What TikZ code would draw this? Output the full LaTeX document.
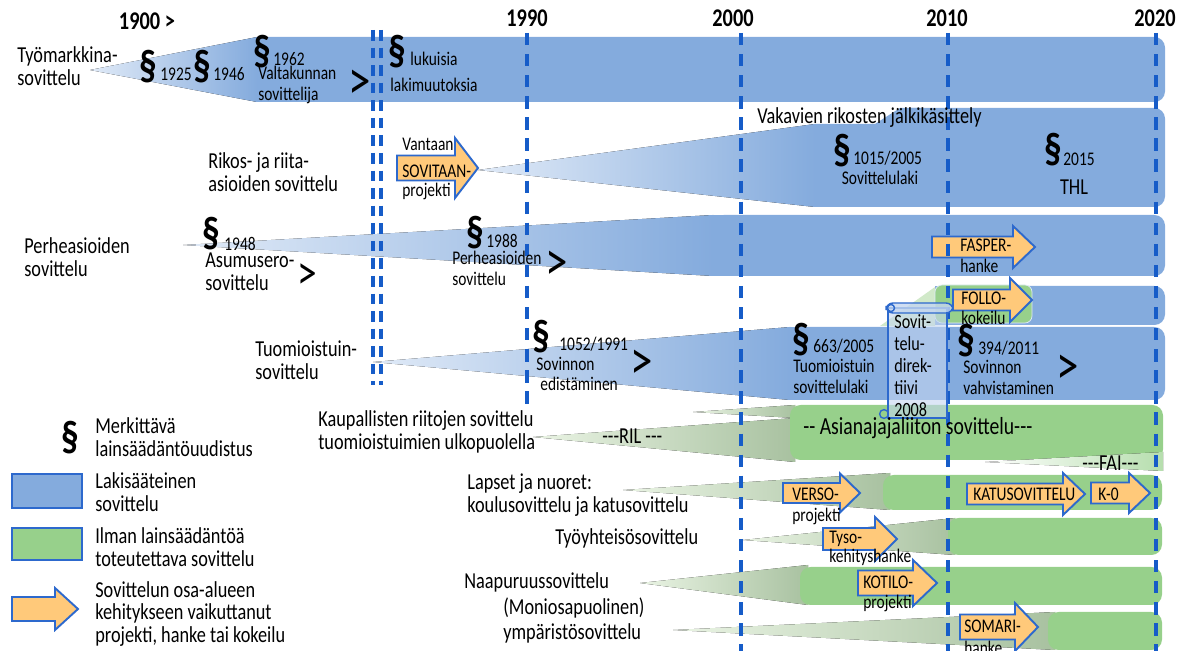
\documentclass[tikz,border=0pt]{standalone}
\usepackage{fontspec}
\setmainfont{Carlito}[FakeStretch=0.8]
\usetikzlibrary{positioning}

\definecolor{bandblue}{RGB}{132,171,221}
\definecolor{bluefade}{RGB}{224,234,247}
\definecolor{bandgreen}{RGB}{151,208,139}
\definecolor{greenfade}{RGB}{234,244,228}
\definecolor{sage}{RGB}{168,193,160}
\definecolor{lineblue}{RGB}{22,92,200}
\definecolor{arrowfill}{RGB}{255,201,122}
\definecolor{arrowline}{RGB}{45,105,205}
\definecolor{scrollfill}{RGB}{196,214,240}

\tikzset{
  sininen/.style={fill=bandblue},
  sinikiila/.style={left color=bluefade, right color=bandblue},
  vihrea/.style={fill=bandgreen},
  viherkiila/.style={left color=greenfade, right color=sage},
  hanke/.style={fill=arrowfill, draw=arrowline, line width=1.1pt, line join=miter},
  vuosiviiva/.style={draw=lineblue, line width=2.3pt, dash pattern=on 7pt off 5pt},
  tuplaviiva/.style={draw=lineblue, line width=2.2pt, dash pattern=on 6pt off 4pt},
  vuosi/.style={font=\bfseries\fontsize{14.5}{14.5}\selectfont, inner sep=0pt},
  teksti/.style={font=\fontsize{13}{13}\selectfont, align=left, anchor=west, inner sep=0pt},
  pieni/.style={teksti, font=\fontsize{11}{12}\selectfont},
  pykala/.style={font=\bfseries\fontsize{25}{25}\selectfont, inner sep=0pt},
  jatkuu/.style={font=\fontsize{32}{32}\selectfont, inner sep=0pt}
}

% band with rounded right end
\newcommand{\kaista}[5]{%
  \fill[#1, rounded corners=6pt] (#2,#3) rectangle (#4,#5);
  \fill[#1] (#2,#3) rectangle ({#2+20},#5);}
% project arrow: x1, x2, head start, y centre, shaft half, head half
\newcommand{\nuoli}[6]{%
  \draw[hanke] (#1,{#4-#5}) -- (#3,{#4-#5}) -- (#3,{#4-#6}) -- (#2,#4)
    -- (#3,{#4+#6}) -- (#3,{#4+#5}) -- (#1,{#4+#5}) -- cycle;}

\begin{document}
\begin{tikzpicture}[x=0.02cm, y=-0.02cm]
  \useasboundingbox (0,0) rectangle (1184,651);

  % lakisaateiset kaistat
  \fill[sinikiila] (90,70) -- (257,37) -- (257,102) -- cycle;
  \kaista{sininen}{257}{37}{1165}{102}

  \fill[sinikiila] (478,170) -- (815,124) -- (815,207) -- cycle;
  \fill[sininen] (815,124) -- (875,124) -- (900,108) -- (920,108) -- (920,207) -- (815,207) -- cycle;
  \kaista{sininen}{900}{108}{1165}{207}

  \fill[sinikiila] (183,245) -- (713,215) -- (713,276) -- cycle;
  \kaista{sininen}{713}{215}{1165}{276}

  \fill[sinikiila] (373,362) -- (790,327) -- (790,400) -- cycle;
  \kaista{sininen}{790}{327}{1165}{400}
  \kaista{sininen}{935}{286}{1165}{325}
  \fill[greenfade!70!bandgreen] (880,326) -- (935,287) -- (935,326) -- cycle;
  \filldraw[vihrea, draw=bluefade, rounded corners=4pt] (935,285) rectangle (1032,323);

  % ilman lainsaadantoa
  \fill[viherkiila] (693,412) -- (795,405) -- (795,418) -- cycle;
  \fill[viherkiila] (533,437) -- (795,418) -- (795,462) -- cycle;
  \fill[vihrea, rounded corners=6pt] (790,405) rectangle (1163,460);
  \fill[left color=white, right color=bandgreen!70] (985,462) -- (1163,452) -- (1163,471) -- cycle;

  \fill[viherkiila] (623,490) -- (890,473) -- (890,510) -- cycle;
  \fill[vihrea, rounded corners=6pt] (883,475) rectangle (1162,510);

  \fill[viherkiila] (743,540) -- (955,518) -- (955,555) -- cycle;
  \fill[vihrea, rounded corners=6pt] (948,518) rectangle (1162,555);

  \fill[viherkiila] (640,583) -- (808,565) -- (808,605) -- cycle;
  \fill[vihrea, rounded corners=6pt] (800,567) rectangle (1162,605);

  \fill[viherkiila] (673,630) -- (1055,612) -- (1055,650) -- cycle;
  \fill[vihrea, rounded corners=6pt] (1048,612) rectangle (1162,650);

  % hankkeet
  \nuoli{397}{478}{455}{168}{12.5}{30}
  \nuoli{932}{1035}{1013}{247}{10.5}{21}
  \nuoli{953}{1032}{1010}{300}{10.5}{22}
  \nuoli{783}{860}{840}{493}{10}{19.5}
  \nuoli{967}{1085}{1063}{494}{10.5}{21}
  \nuoli{1091}{1150}{1129}{493}{10.5}{20}
  \nuoli{823}{897}{875}{539}{11}{22}
  \nuoli{858}{937}{913}{583}{12.5}{23}
  \nuoli{960}{1038}{1015}{627}{12.5}{24}

  % vuosiviivat
  \draw[tuplaviiva] (373,30) -- (373,385);
  \draw[tuplaviiva] (381,30) -- (381,385);
  \draw[vuosiviiva] (527,33) -- (527,405);
  \draw[vuosiviiva] (741,33) -- (741,651);
  \draw[vuosiviiva] (948,33) -- (948,651);
  \draw[vuosiviiva] (1156,33) -- (1156,651);

  % direktiivi
  \fill[scrollfill, opacity=0.6] (888,308) rectangle (947,418);
  \draw[arrowline, line width=0.8pt] (888,308) rectangle (947,418);
  \draw[arrowline, line width=0.8pt, fill=scrollfill, fill opacity=0.8, rounded corners=4pt] (886,303) rectangle (953,313);
  \draw[arrowline, line width=0.8pt] (891,308) circle (2pt);
  \draw[arrowline, line width=0.8pt] (884,414) circle (2.5pt);

  % vuodet
  \node[vuosi] (v1900) at (147,21) {1900 >};
  \node[vuosi] (v1990) at (527,18) {1990};
  \node[vuosi] (v2000) at (733,18) {2000};
  \node[vuosi] (v2010) at (947,18) {2010};
  \node[vuosi] (v2020) at (1155,18) {2020};

  % tyomarkkinasovittelu
  \node[teksti] (tyo) at (17,66) {Työmarkkina-\\sovittelu};
  \node[pykala] (p1925) at (148,67) {§};
  \node[pieni] (l1925) at (160,74) {1925};
  \node[pykala] (p1946) at (202,67) {§};
  \node[pieni] (l1946) at (213,74) {1946};
  \node[pykala] (p1962) at (262,52) {§};
  \node[pieni] (l1962) at (273,59) {1962};
  \node[pieni] (valtak) at (258,85) {Valtakunnan\\sovittelija};
  \node[jatkuu] (j1) at (360,85) {>};
  \node[pykala] (plukuisia) at (397,52) {§};
  \node[pieni] (lukuisia) at (410,59) {lukuisia};
  \node[pieni] (lakimuut) at (390,85) {lakimuutoksia};

  % rikos- ja riita-asiat
  \node[teksti] (vakavien) at (757,118) {Vakavien rikosten jälkikäsittely};
  \node[teksti] (rikos) at (208,172) {Rikos- ja riita-\\asioiden sovittelu};
  \node[pieni] (vantaan) at (402,144) {Vantaan};
  \node[pieni] (sovitaan) at (402,171) {SOVITAAN-};
  \node[pieni] (sovproj) at (402,191) {projekti};
  \node[pykala] (p2005) at (842,151) {§};
  \node[pieni] (l2005) at (853,158) {1015/2005};
  \node[pieni, anchor=center] (sovlaki) at (880,178) {Sovittelulaki};
  \node[pykala] (p2015) at (1053,150) {§};
  \node[pieni] (l2015) at (1063,159) {2015};
  \node[teksti, anchor=center] (thl) at (1074,187) {THL};

  % perheasiat
  \node[teksti] (perhe) at (24,257) {Perheasioiden\\sovittelu};
  \node[pykala] (p1948) at (211,234) {§};
  \node[pieni] (l1948) at (224,244) {1948};
  \node[teksti] (asumus) at (205,272) {Asumusero-\\sovittelu};
  \node[jatkuu, font=\fontsize{28}{28}\selectfont] (j2) at (307,277) {>};
  \node[pykala] (p1988) at (475,233) {§};
  \node[pieni] (l1988) at (486,241) {1988};
  \node[pieni] (perhe88) at (452,268) {Perheasioiden\\sovittelu};
  \node[jatkuu] (j3) at (557,266) {>};
  \node[pieni] (fasper) at (960,245) {FASPER-};
  \node[pieni] (fasphanke) at (960,266) {hanke};

  % tuomioistuinsovittelu
  \node[teksti] (tuomio) at (255,360) {Tuomioistuin-\\sovittelu};
  \node[pykala] (p1991) at (541,337) {§};
  \node[pieni] (l1991) at (559,344) {1052/1991};
  \node[pieni] (sovinnon) at (536,364) {Sovinnon};
  \node[pieni] (edist) at (540,384) {edistäminen};
  \node[jatkuu] (j4) at (642,365) {>};
  \node[pykala] (p663) at (801,340) {§};
  \node[pieni] (l663) at (813,346) {663/2005};
  \node[pieni] (tslaki) at (793,376) {Tuomioistuin\\sovittelulaki};
  \node[pykala] (p394) at (966,341) {§};
  \node[pieni] (l394) at (978,348) {394/2011};
  \node[pieni] (vahvist) at (963,377) {Sovinnon\\vahvistaminen};
  \node[jatkuu] (j5) at (1068,370) {>};
  \node[pieni] (follo) at (961,298) {FOLLO-};
  \node[pieni] (kokeilu) at (961,318) {kokeilu};
  \node[teksti, font=\fontsize{11.5}{12.5}\selectfont] (direktiivi) at (894,366) {Sovit-\\telu-\\direk-\\tiivi\\2008};

  % kaupalliset riidat
  \node[teksti] (kaupall) at (318,432) {Kaupallisten riitojen sovittelu\\tuomioistuimien ulkopuolella};
  \node[teksti] (ril) at (602,436) {-{}-{}-RIL -{}-{}-};
  \node[teksti, font=\fontsize{14}{14}\selectfont] (asianaj) at (803,428) {-{}- Asianajajaliiton sovittelu-{}-{}-};
  \node[teksti] (fai) at (1082,463) {-{}-{}-FAI-{}-{}-};

  % lapset, tyoyhteiso, naapurit
  \node[teksti] (lapset) at (467,495) {Lapset ja nuoret:\\koulusovittelu ja katusovittelu};
  \node[pieni] (verso) at (792,494) {VERSO-};
  \node[pieni] (versoproj) at (792,516) {projekti};
  \node[pieni] (katu) at (973,494) {KATUSOVITTELU};
  \node[pieni] (k0) at (1098,494) {K-0};
  \node[teksti] (tyoyht) at (555,538) {Työyhteisösovittelu};
  \node[pieni] (tyso) at (829,539) {Tyso-};
  \node[pieni] (kehitys) at (829,557) {kehityshanke};
  \node[teksti] (naapuri) at (464,582) {Naapuruussovittelu};
  \node[teksti] (monio) at (503,608) {(Moniosapuolinen)};
  \node[teksti] (ymparisto) at (503,633) {ympäristösovittelu};
  \node[pieni] (kotilo) at (863,582) {KOTILO-};
  \node[pieni] (kotiloproj) at (863,603) {projekti};
  \node[pieni] (somari) at (964,626) {SOMARI-};
  \node[pieni] (somhanke) at (964,648) {hanke};

  % selite
  \node[pykala] (sel1) at (70,438) {§};
  \node[teksti] (sel1t) at (95,437) {Merkittävä\\lainsäädäntöuudistus};
  \filldraw[sininen, draw=arrowline, line width=0.8pt] (12,474) rectangle (82,508);
  \node[teksti] (sel2t) at (95,492) {Lakisääteinen\\sovittelu};
  \filldraw[vihrea, draw=arrowline, line width=0.8pt] (12,528) rectangle (82,560);
  \node[teksti] (sel3t) at (95,547) {Ilman lainsäädäntöä\\toteutettava sovittelu};
  \nuoli{12}{78}{55}{609}{12}{21}
  \node[teksti] (sel4t) at (95,614) {Sovittelun osa-alueen\\kehitykseen vaikuttanut\\projekti, hanke tai kokeilu};
\end{tikzpicture}
\end{document}
